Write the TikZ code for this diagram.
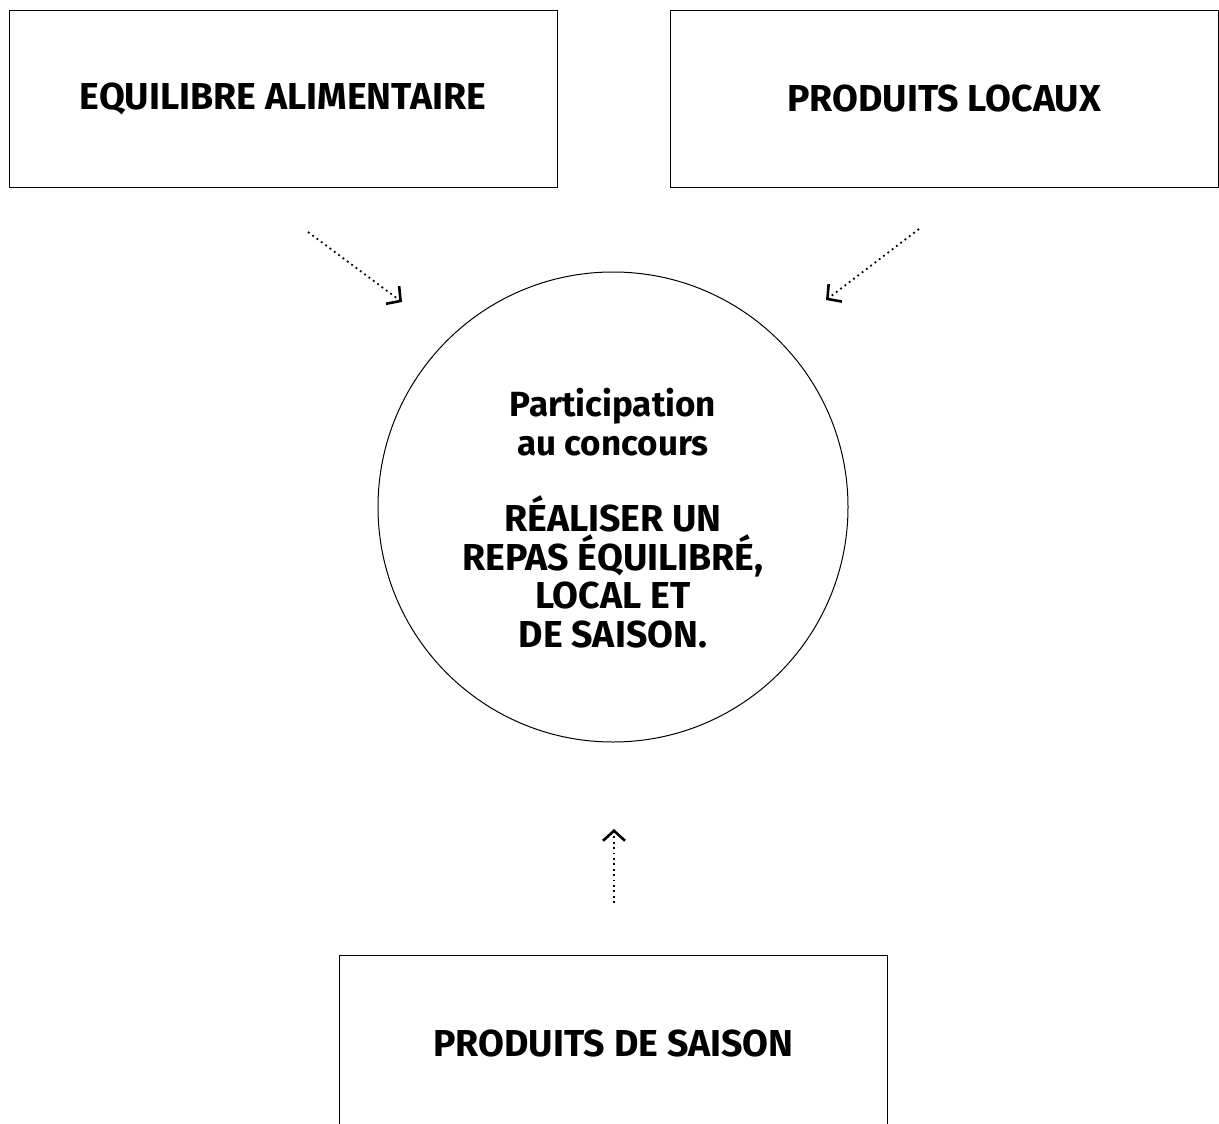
\documentclass[tikz,border=0pt]{standalone}
\usepackage{fontspec}
\setmainfont{Fira Sans}
\usetikzlibrary{arrows.meta}
\tikzset{
  box/.style={draw=black, line width=1pt, minimum width=548pt, minimum height=176pt, inner sep=0pt, font=\bfseries\fontsize{37.5}{40}\selectfont},
  circ/.style={draw=black, line width=1pt, circle, minimum size=470pt, inner sep=0pt},
  circtext/.style={align=center, inner sep=0pt, font=\bfseries\fontsize{37.5}{38.5}\selectfont},
  link/.style={line width=1.8pt, dash pattern=on 1.8pt off 3.6pt, -{Straight Barb[length=10pt,width=22pt,line width=2.6pt]}}
}
\begin{document}
\begin{tikzpicture}[x=1pt,y=-1pt]
\useasboundingbox (0,0) rectangle (1219,1124);
\begin{scope}
\clip (0,0) rectangle (1219,1124);
\node[box] (equi) at (283,99) {EQUILIBRE ALIMENTAIRE};
\node[box] (loc) at (944,99) {PRODUITS LOCAUX};
\node[box] (sai) at (613.5,1043) {PRODUITS DE SAISON};
\end{scope}
\node[circ] (c) at (613,507) {};
\node[circtext] (ct) at (613,518) {{\fontsize{35}{38.5}\selectfont Participation}\\{\fontsize{35}{38.5}\selectfont au concours}\\[38pt]RÉALISER UN\\REPAS ÉQUILIBRÉ,\\LOCAL ET\\DE SAISON.};
\coordinate (a1s) at (308,232);
\coordinate (a1e) at (402,302);
\coordinate (a2s) at (919,229);
\coordinate (a2e) at (826,300);
\coordinate (a3s) at (614,903);
\coordinate (a3e) at (614,829);
\draw[link] (a1s) -- (a1e);
\draw[link] (a2s) -- (a2e);
\draw[link] (a3s) -- (a3e);
\end{tikzpicture}
\end{document}
